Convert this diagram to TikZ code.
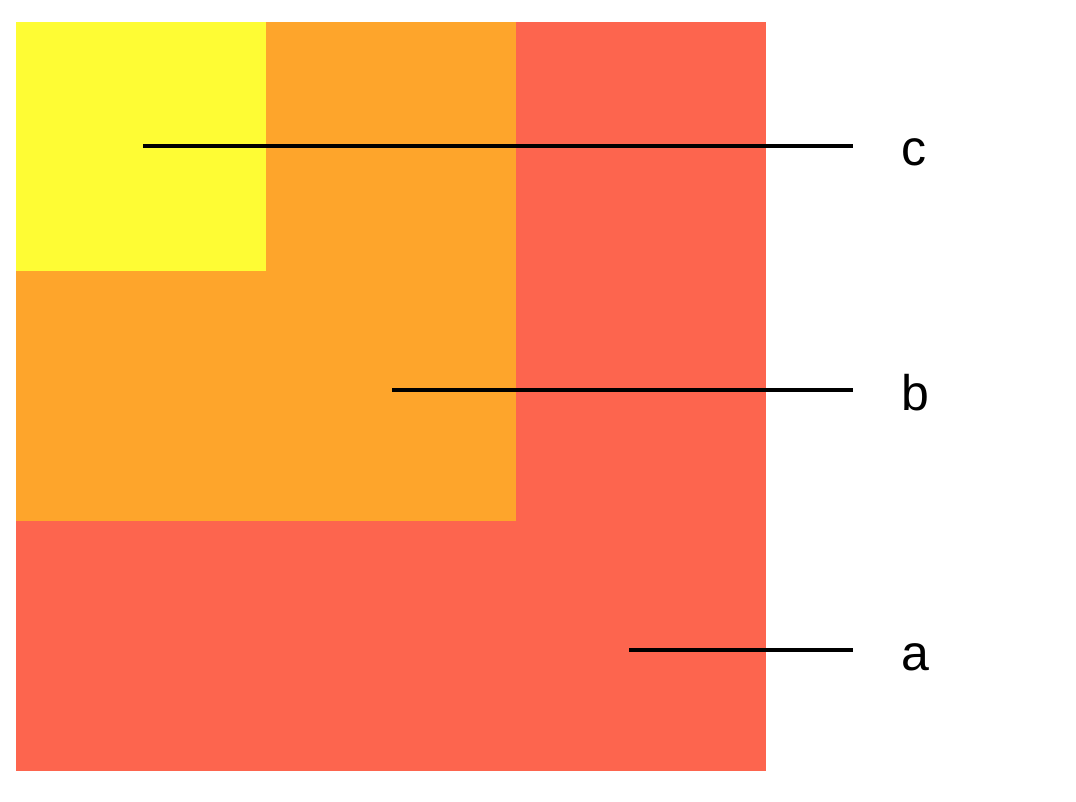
\documentclass[tikz,border=0pt]{standalone}
\usepackage{fontspec}
\setmainfont{Liberation Sans}
\definecolor{cyel}{RGB}{254,252,52}
\definecolor{corg}{RGB}{254,165,43}
\definecolor{cred}{RGB}{253,101,78}
\begin{document}
\begin{tikzpicture}[x=1pt,y=-1pt,
  lbl/.style={anchor=base west,inner sep=0pt,font=\fontsize{50}{60}\selectfont},
  leader/.style={line width=4pt,black}]
\useasboundingbox (0,0) rectangle (1076,802);
\fill[white] (0,0) rectangle (1076,802);
\fill[cred] (16,22) rectangle (766,771);
\fill[corg] (16,22) rectangle (516,521);
\fill[cyel] (16,22) rectangle (266,271);
\node[lbl] (c) at (901,166) {c};
\node[lbl] (b) at (901,410) {b};
\node[lbl] (a) at (901,670) {a};
\coordinate (cs) at (143,146);
\coordinate (ce) at (853,146);
\coordinate (bs) at (392,390);
\coordinate (be) at (853,390);
\coordinate (as) at (629,650);
\coordinate (ae) at (853,650);
\draw[leader] (cs) -- (ce);
\draw[leader] (bs) -- (be);
\draw[leader] (as) -- (ae);
\end{tikzpicture}
\end{document}
